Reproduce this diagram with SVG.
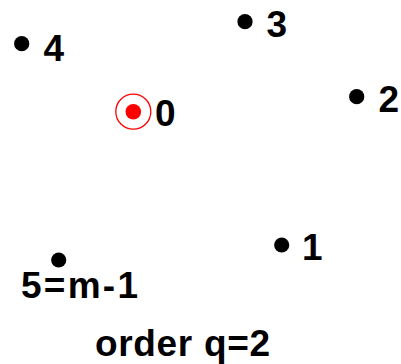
<svg xmlns="http://www.w3.org/2000/svg" width="401" height="364" viewBox="0 0 401 364">
<style>
.lbl{font-family:"Liberation Sans",Arial,sans-serif;font-weight:bold;font-size:37px;fill:#000}
.dot{fill:#000}
</style>
<rect width="401" height="364" fill="#fff"/>
<g id="connectors"></g>
<g id="node0">
<circle cx="133.3" cy="111.7" r="17.5" fill="none" stroke="#ff0000" stroke-width="1.3"/>
<circle cx="133.3" cy="111.7" r="7.8" fill="#ff0000"/>
<text class="lbl" x="155" y="126">0</text>
</g>
<g id="node1">
<circle class="dot" cx="281.7" cy="245" r="7.6"/>
<text class="lbl" x="302" y="260">1</text>
</g>
<g id="node2">
<circle class="dot" cx="356.7" cy="96.7" r="7.6"/>
<text class="lbl" x="378.5" y="111.5">2</text>
</g>
<g id="node3">
<circle class="dot" cx="245" cy="21.7" r="7.6"/>
<text class="lbl" x="266.5" y="37.3">3</text>
</g>
<g id="node4">
<circle class="dot" cx="21.7" cy="43.7" r="7.6"/>
<text class="lbl" x="43.5" y="60.5">4</text>
</g>
<g id="node5">
<circle class="dot" cx="58.7" cy="260" r="7.6"/>
<text class="lbl" x="21" y="298" textLength="117" lengthAdjust="spacing">5=m-1</text>
</g>
<g id="caption">
<text class="lbl" x="95" y="356" textLength="175" lengthAdjust="spacing">order q=2</text>
</g>
</svg>
